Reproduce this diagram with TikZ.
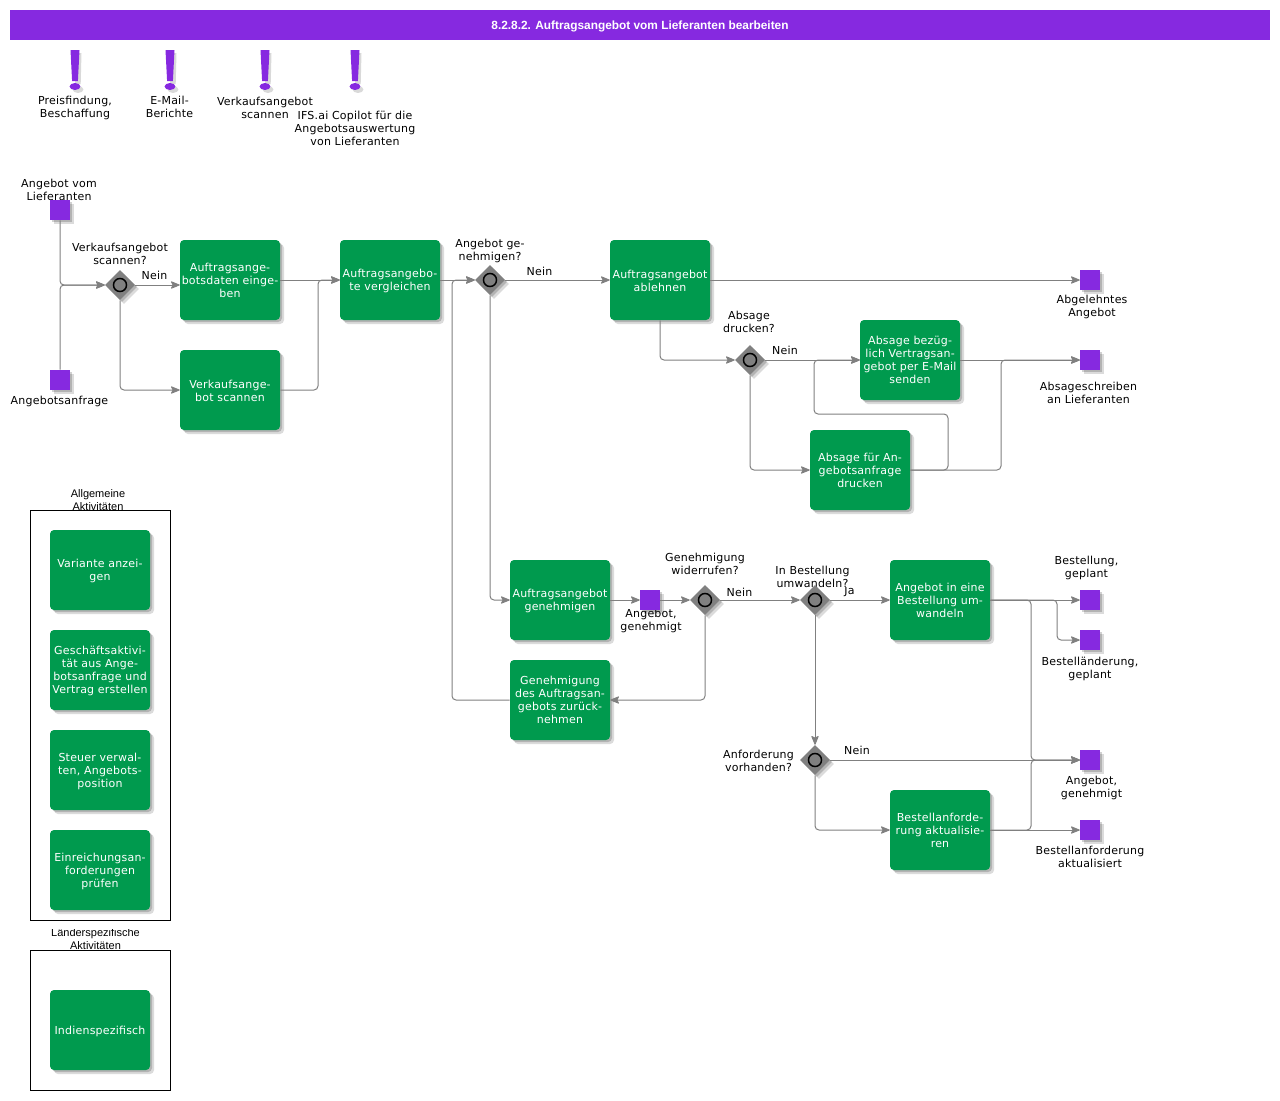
\documentclass[tikz,border=0pt]{standalone}
\usepackage{fontspec}
\setmainfont[LetterSpace=1.9]{DejaVu Sans}
\newfontfamily\arialfont{Liberation Sans}
\usetikzlibrary{arrows.meta, shapes.geometric, shadows}

\definecolor{procpurple}{HTML}{8629E0}
\definecolor{procgreen}{HTML}{009A4E}
\definecolor{procgray}{HTML}{808080}

\newcommand{\lowfirst}{\rule{0pt}{8.2pt}}

\tikzset{
    softshadow/.style={
        general shadow={shadow xshift=1.5pt,shadow yshift=-1.5pt,fill=black,opacity=.18},
        general shadow={shadow xshift=3pt,shadow yshift=-3pt,fill=black,opacity=.14}},
    txt/.style={inner sep=0pt,align=center,font=\fontsize{8.25}{9.75}\selectfont},
    boxtitle/.style={inner sep=0pt,align=center,font=\arialfont\fontsize{8.25}{9.75}\selectfont},
    taskbox/.style={softshadow,fill=procgreen,rounded corners=3pt,minimum width=75pt,minimum height=60pt,
        inner sep=0pt,align=center,text=white,font=\fontsize{8.25}{9.75}\selectfont},
    eventbox/.style={softshadow,fill=procpurple,minimum size=15pt,inner sep=0pt},
    gatebox/.style={softshadow,diamond,fill=procgray,minimum size=22.5pt,inner sep=0pt,
        path picture={\draw[black,line width=1.1pt,fill=procgray] (path picture bounding box.center) circle (4.9pt);}},
    framebox/.style={draw=black,line width=.75pt,fill=white,minimum width=105pt,inner sep=0pt},
    flow/.style={draw=procgray,line width=.75pt,rounded corners=3pt,
        -{Stealth[length=7.5pt,width=6pt,inset=1.5pt,round]},},
    alertmark/.pic={
        \fill[black,opacity=.15] (-2.5,3) -- (6.5,3) -- (5.7,34) -- (0.3,34) -- cycle;
        \fill[black,opacity=.15] (3,39.5) ellipse (4.1pt and 2.6pt);
        \fill[procpurple] (-4.5,0) -- (4.5,0) -- (2.9,31) -- (-2.9,31) -- cycle;
        \fill[procpurple] (0,36.5) ellipse (4.1pt and 2.6pt);
    },
}

\begin{document}
\begin{tikzpicture}[x=.75pt,y=-.75pt]
    \useasboundingbox (0,0) rectangle (1280,1100);

    % title bar
    \node (titlebar) [fill=procpurple,minimum width=945pt,minimum height=22.5pt,inner sep=0pt,text=white,
        font=\arialfont\bfseries\fontsize{8.9}{11}\selectfont,
        execute at begin node={\rule{0pt}{8.6pt}}] at (640,25)
        {8.2.8.2. Auftragsangebot vom Lieferanten bearbeiten};

    % notes
    \pic at (75,50) {alertmark};
    \pic at (170,50) {alertmark};
    \pic at (265,50) {alertmark};
    \pic at (355,50) {alertmark};
    \node (notea) [txt] at (75,107.5) {Preisfindung,\\Beschaffung};
    \node (noteb) [txt] at (169.5,107) {E-Mail-\\Berichte};
    \node (notec) [txt] at (265,107.5) {Verkaufsangebot\\scannen};
    \node (noted) [txt] at (355,128) {IFS.ai Copilot für die\\Angebotsauswertung\\von Lieferanten};

    % labels of events and gates
    \node (lbla) [txt] at (59,189.5) {Angebot vom\\Lieferanten};
    \node (lblb) [txt] at (59.5,401) {Angebotsanfrage};
    \node (lblc) [txt] at (120,253.5) {Verkaufsangebot\\scannen?};
    \node (lbld) [txt] at (490,250.5) {Angebot ge-\\nehmigen?};
    \node (lble) [txt] at (1092,306.5) {Abgelehntes\\Angebot};
    \node (lblf) [txt] at (749,321.5) {Absage\\drucken?};
    \node (lblg) [txt] at (1088.5,392.5) {Absageschreiben\\an Lieferanten};
    \node (lblh) [txt] at (651,621) {Angebot,\\genehmigt};
    \node (lbli) [txt] at (705,563.5) {Genehmigung\\widerrufen?};
    \node (lblj) [txt] at (849.5,592) {Ja};
    \node (lblk) [txt,fill=white] at (812.5,576.5) {In Bestellung\\umwandeln?};
    \node (lbll) [txt] at (1086.5,567.5) {Bestellung,\\geplant};
    \node (lblm) [txt] at (1090,668.5) {Bestelländerung,\\geplant};
    \node (lbln) [txt] at (758.5,760.5) {Anforderung\\vorhanden?};
    \node (lblo) [txt] at (1091.5,787.5) {Angebot,\\genehmigt};
    \node (lblp) [txt] at (1090,856.5) {Bestellanforderung\\aktualisiert};

    % flow labels
    \node (neina) [txt] at (154.5,275) {Nein};
    \node (neinb) [txt] at (539.5,271) {Nein};
    \node (neinc) [txt] at (785,350) {Nein};
    \node (neind) [txt] at (739.5,592) {Nein};
    \node (neine) [txt] at (857,750) {Nein};

    % events
    \node (evquote) [eventbox] at (60,210) {};
    \node (evrequest) [eventbox] at (60,380) {};
    \node (evrejected) [eventbox] at (1090,280) {};
    \node (evletter) [eventbox] at (1090,360) {};
    \node (evapproved) [eventbox] at (650,600) {};
    \node (evorder) [eventbox] at (1090,600) {};
    \node (evchange) [eventbox] at (1090,640) {};
    \node (evapprovedb) [eventbox] at (1090,760) {};
    \node (evreq) [eventbox] at (1090,830) {};

    % gates
    \node (gscan) [gatebox] at (120,285) {};
    \node (gapprove) [gatebox] at (490,280) {};
    \node (gprint) [gatebox] at (750,360) {};
    \node (grevoke) [gatebox] at (705,600) {};
    \node (gconvert) [gatebox] at (815,600) {};
    \node (greq) [gatebox] at (815,760) {};

    % tasks
    \node (tenter) [taskbox] at (230,280) {Auftragsange-\\botsdaten einge-\\ben};
    \node (tscan) [taskbox] at (230,390) {\lowfirst Verkaufsange-\\bot scannen};
    \node (tcompare) [taskbox] at (390,280) {\lowfirst Auftragsangebo-\\te vergleichen};
    \node (treject) [taskbox] at (660,280) {\lowfirst Auftragsangebot\\ablehnen};
    \node (tmail) [taskbox] at (910,360) {Absage bezüg-\\lich Vertragsan-\\gebot per E-Mail\\senden};
    \node (tprint) [taskbox] at (860,470) {Absage für An-\\gebotsanfrage\\drucken};
    \node (tapprove) [taskbox] at (560,600) {\lowfirst Auftragsangebot\\genehmigen};
    \node (trevoke) [taskbox] at (560,700) {Genehmigung\\des Auftragsan-\\gebots zurück-\\nehmen};
    \node (tconvert) [taskbox] at (940,600) {Angebot in eine\\Bestellung um-\\wandeln};
    \node (tupdate) [taskbox] at (940,830) {Bestellanforde-\\rung aktualisie-\\ren};

    % joints of the connectors
    \coordinate (ja) at (318,280);
    \coordinate (jb) at (452,280);
    \coordinate (jc) at (1001,360);
    \coordinate (jd) at (948,414);
    \coordinate (je) at (814,414);
    \coordinate (jf) at (814,360);
    \coordinate (jg) at (1057,600);
    \coordinate (jh) at (1031,600);
    \coordinate (ji) at (1031,830);

    % connectors
    \draw[flow] (evquote.south) |- (gscan.west);
    \draw[flow] (evrequest.north) |- (gscan.west);
    \draw[flow] (gscan.east) -- (gscan.east -| tenter.west);
    \draw[flow] (gscan.south) |- (tscan.west);
    \draw[flow] (tenter.east) -- (tcompare.west);
    \draw[flow] (tscan.east) -| (ja) -- (tcompare.west);
    \draw[flow] (tcompare.east) -- (gapprove.west);
    \draw[flow] (gapprove.east) -- (treject.west);
    \draw[flow] (gapprove.south) |- (tapprove.west);
    \draw[flow] (trevoke.west) -| (jb) -- (gapprove.west);
    \draw[flow] (treject.east) -- (evrejected.west);
    \draw[flow] (treject.south) |- (gprint.west);
    \draw[flow] (gprint.east) -- (tmail.west);
    \draw[flow] (gprint.south) |- (tprint.west);
    \draw[flow] (tmail.east) -- (evletter.west);
    \draw[flow] (tprint.east) -| (jc) -- (evletter.west);
    \draw[flow] (tprint.east) -| (jd) -- (je) -- (jf) -- (tmail.west);
    \draw[flow] (tapprove.east) -- (evapproved.west);
    \draw[flow] (evapproved.east) -- (grevoke.west);
    \draw[flow] (grevoke.east) -- (gconvert.west);
    \draw[flow] (grevoke.south) |- (trevoke.east);
    \draw[flow] (gconvert.east) -- (tconvert.west);
    \draw[flow] (gconvert.south) -- (greq.north);
    \draw[flow] (greq.east) -- (evapprovedb.west);
    \draw[flow] (greq.south) |- (tupdate.west);
    \draw[flow] (tconvert.east) -- (evorder.west);
    \draw[flow] (tconvert.east) -- (jg) |- (evchange.west);
    \draw[flow] (tconvert.east) -- (jh) |- (evapprovedb.west);
    \draw[flow] (tupdate.east) -- (evreq.west);
    \draw[flow] (tupdate.east) -- (ji) |- (evapprovedb.west);

    % activity frames
    \node (lblgeneral) [boxtitle] at (98,500.5) {Allgemeine\\Aktivitäten};
    \node (framegeneral) [framebox,minimum height=307.5pt] at (100.5,715.5) {};
    \begin{scope}
        \clip (30,929) rectangle (170,950);
        \node (lblcountry) [boxtitle] at (95.5,939) {Länderspezifische\\Aktivitäten};
    \end{scope}
    \node (framecountry) [framebox,minimum height=105pt] at (100.5,1020.5) {};

    \node (avariant) [taskbox] at (100,570) {\lowfirst Variante anzei-\\gen};
    \node (abusiness) [taskbox] at (100,670) {\lowfirst Geschäftsaktivi-\\tät aus Ange-\\botsanfrage und\\Vertrag erstellen};
    \node (atax) [taskbox] at (100,770) {\lowfirst Steuer verwal-\\ten, Angebots-\\position};
    \node (acheck) [taskbox] at (100,870) {\lowfirst Einreichungsan-\\forderungen\\prüfen};
    \node (aindia) [taskbox] at (100,1030) {\lowfirst Indienspezifisch};
\end{tikzpicture}
\end{document}
